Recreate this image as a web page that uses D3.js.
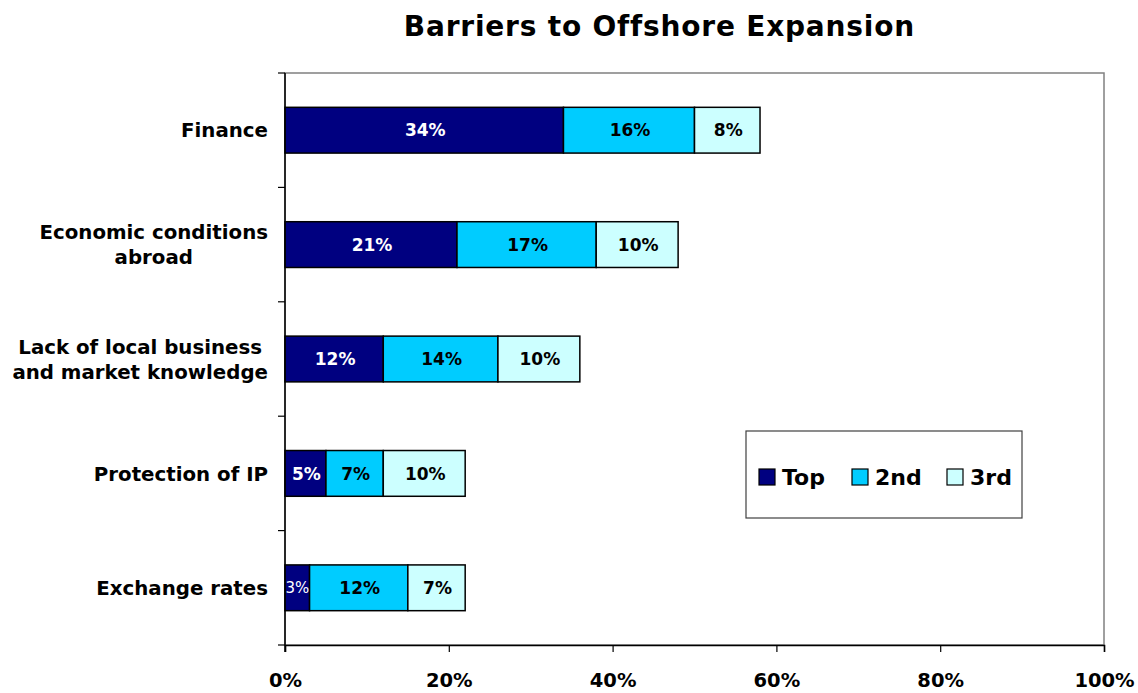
<!DOCTYPE html>
<html>
<head>
<meta charset="utf-8">
<script src="https://cdn.jsdelivr.net/npm/d3@7"></script>
<style>
  html, body { margin: 0; padding: 0; background: #fff; }
  svg { display: block; font-family: "DejaVu Sans", Verdana, sans-serif; }
</style>
</head>
<body>
<svg id="chart" width="1138" height="693"></svg>
<script>
// Survey shares by barrier, ranked as top, second and third barrier
const categories = [
  ["Finance"],
  ["Economic conditions", "abroad"],
  ["Lack of local business", "and market knowledge"],
  ["Protection of IP"],
  ["Exchange rates"]
];
const seriesNames = ["Top", "2nd", "3rd"];
const topValues    = [34, 21, 12, 5, 3];
const secondValues = [16, 17, 14, 7, 12];
const thirdValues  = [8, 10, 10, 10, 7];
const xTicks = [0, 20, 40, 60, 80, 100];
const colors = ["#000080", "#00CCFF", "#CCFFFF"];
const labelColors = ["#ffffff", "#000000", "#000000"];

const svg = d3.select("#chart");
const margin = { left: 285, right: 1104, top: 73, bottom: 645 };

const x = d3.scaleLinear().domain([0, 100]).range([margin.left, margin.right]);
const y = d3.scaleBand()
  .domain(d3.range(categories.length))
  .range([margin.top, margin.bottom])
  .paddingInner(0.6)
  .paddingOuter(0.3);

// Title
const titleLs = 0.8;
svg.append("text")
  .attr("x", 659 + titleLs / 2).attr("y", 36)
  .attr("text-anchor", "middle")
  .attr("font-size", 28).attr("font-weight", "bold")
  .attr("letter-spacing", titleLs)
  .text("Barriers to Offshore Expansion");

// Plot frame
svg.append("rect")
  .attr("x", margin.left).attr("y", margin.top)
  .attr("width", margin.right - margin.left)
  .attr("height", margin.bottom - margin.top)
  .attr("fill", "none").attr("stroke", "#808080").attr("stroke-width", 1.5);

// Stacked segments
const rows = categories.map((c, i) => {
  const vals = [topValues[i], secondValues[i], thirdValues[i]];
  let acc = 0;
  return vals.map((v, s) => { const seg = { i, s, v, x0: acc, x1: acc + v }; acc += v; return seg; });
});
const segs = rows.flat();

svg.append("g").selectAll("rect").data(segs).join("rect")
  .attr("x", d => x(d.x0))
  .attr("y", d => y(d.i))
  .attr("width", d => x(d.x1) - x(d.x0))
  .attr("height", y.bandwidth())
  .attr("fill", d => colors[d.s])
  .attr("stroke", "#000").attr("stroke-width", 1.5);

svg.append("g").selectAll("text").data(segs).join("text")
  .attr("x", d => (x(d.x0) + x(d.x1)) / 2 + (d.v <= 3 ? 0 : 1))
  .attr("y", d => y(d.i) + y.bandwidth() / 2)
  .attr("dy", "0.36em")
  .attr("text-anchor", "middle")
  .attr("font-size", d => d.v <= 3 ? 15 : 17)
  .attr("font-weight", d => d.v <= 3 ? "normal" : "bold")
  .attr("fill", d => labelColors[d.s])
  .text(d => d.v + "%");

// Y axis line and ticks
const yAxis = svg.append("g").attr("transform", `translate(${margin.left},0)`);
yAxis.append("line")
  .attr("x1", 0).attr("x2", 0).attr("y1", margin.top).attr("y2", margin.bottom + 7)
  .attr("stroke", "#000").attr("stroke-width", 1.5);
const step = y.step();
const tickYs = d3.range(categories.length + 1).map(k => margin.top + k * step);
yAxis.selectAll("line.tick").data(tickYs).join("line").attr("class", "tick")
  .attr("x1", -7).attr("x2", 0).attr("y1", d => d).attr("y2", d => d)
  .attr("stroke", "#000").attr("stroke-width", 1.2);

// Category labels: block right-aligned, lines centred within the block
const labelRight = 268;
const catLabels = svg.append("g");
categories.forEach((lines, i) => {
  const cy = y(i) + y.bandwidth() / 2;
  const lh = 25;
  const texts = lines.map((ln, k) => catLabels.append("text")
    .attr("text-anchor", "middle")
    .attr("font-size", 19.8).attr("font-weight", "bold")
    .attr("fill", "#000")
    .attr("y", cy + (k - (lines.length - 1) / 2) * lh)
    .attr("dy", "0.36em")
    .text(ln));
  const widths = texts.map(t => t.node().getComputedTextLength());
  const maxW = d3.max(widths);
  const cx = labelRight - maxW / 2;
  texts.forEach(t => t.attr("x", cx));
});

// X axis
const xAxis = d3.axisBottom(x)
  .tickValues(xTicks)
  .tickSize(7)
  .tickPadding(21)
  .tickFormat(d => d + "%");
const gx = svg.append("g").attr("transform", `translate(0,${margin.bottom})`).call(xAxis);
gx.select(".domain").attr("stroke", "#000").attr("stroke-width", 1.5);
gx.selectAll(".tick line").attr("stroke", "#000").attr("stroke-width", 1.2);
gx.selectAll(".tick text")
  .attr("font-family", "DejaVu Sans, Verdana, sans-serif")
  .attr("font-size", 19.5).attr("font-weight", "bold").attr("fill", "#000");

// Legend
const legend = svg.append("g").attr("transform", "translate(746,431)");
legend.append("rect")
  .attr("width", 276).attr("height", 87)
  .attr("fill", "#fff").attr("stroke", "#404040").attr("stroke-width", 1.2);
const legendX = [13, 106, 201];
seriesNames.forEach((name, s) => {
  const g = legend.append("g").attr("transform", `translate(${legendX[s]},38)`);
  g.append("rect").attr("width", 16).attr("height", 16)
    .attr("fill", colors[s]).attr("stroke", "#000").attr("stroke-width", 1.2);
  g.append("text").attr("x", 23).attr("y", 8).attr("dy", "0.36em")
    .attr("font-size", 22).attr("font-weight", "bold").attr("fill", "#000")
    .text(name);
});
</script>
</body>
</html>
